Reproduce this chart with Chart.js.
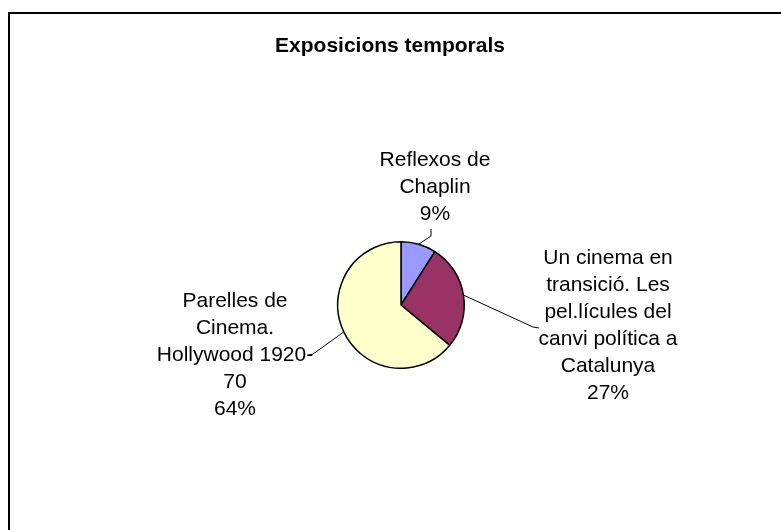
<!DOCTYPE html>
<html>
<head>
<meta charset="utf-8">
<script src="https://cdn.jsdelivr.net/npm/chart.js@4.4.1/dist/chart.umd.min.js"></script>
<style>
    html, body { margin: 0; padding: 0; background: #fff; }
    #wrap { width: 781px; height: 530px; position: relative; }
</style>
</head>
<body>
<div id="wrap"><canvas id="pieChart" width="781" height="530"></canvas></div>
<script>
// data
const chartTitle = 'Exposicions temporals';
const categories = [
    ['Reflexos de', 'Chaplin'],
    ['Un cinema en', 'transició. Les', 'pel.lícules del', 'canvi política a', 'Catalunya'],
    ['Parelles de', 'Cinema.', 'Hollywood 1920-', '70']
];
const shares = [9, 27, 64];
const sliceColors = ['#9999FF', '#993366', '#FFFFCC'];

// where each label block sits (centre x, first line y) and the elbow of its leader
const labelSpots = [
    { x: 435, y: 160, elbow: [[431, 236], [431, 229]] },
    { x: 608, y: 258, elbow: [[533, 327], [539, 328]] },
    { x: 235, y: 301, elbow: [[313, 354], [309, 355]] }
];

const font = '21px "Liberation Sans", Arial, sans-serif';
const lineH = 27;

const excelLook = {
    id: 'excelLook',
    beforeDraw(chart) {
        const ctx = chart.ctx;
        ctx.save();
        ctx.fillStyle = '#fff';
        ctx.fillRect(0, 0, chart.width, chart.height);
        ctx.strokeStyle = '#000';
        ctx.lineWidth = 2;
        ctx.strokeRect(9, 13, 800, 560);
        ctx.fillStyle = '#000';
        ctx.font = 'bold 21px "Liberation Sans", Arial, sans-serif';
        ctx.textAlign = 'center';
        ctx.textBaseline = 'middle';
        ctx.fillText(chartTitle, 390, 46);
        ctx.restore();
    },
    afterDatasetsDraw(chart) {
        const ctx = chart.ctx;
        const meta = chart.getDatasetMeta(0);
        const total = shares.reduce((a, b) => a + b, 0);
        ctx.save();
        meta.data.forEach((arc, i) => {
            const p = arc.getProps(['x', 'y', 'startAngle', 'endAngle', 'outerRadius'], true);
            const mid = (p.startAngle + p.endAngle) / 2;
            const ex = p.x + Math.cos(mid) * p.outerRadius;
            const ey = p.y + Math.sin(mid) * p.outerRadius;
            const spot = labelSpots[i];

            // leader line
            ctx.strokeStyle = '#000';
            ctx.lineWidth = 1;
            ctx.beginPath();
            ctx.moveTo(ex, ey);
            spot.elbow.forEach(pt => ctx.lineTo(pt[0], pt[1]));
            ctx.stroke();

            // label text
            const lines = categories[i].concat([Math.round(shares[i] / total * 100) + '%']);
            ctx.fillStyle = '#000';
            ctx.font = font;
            ctx.textAlign = 'center';
            ctx.textBaseline = 'middle';
            lines.forEach((t, k) => ctx.fillText(t, spot.x, spot.y + k * lineH));
        });
        ctx.restore();
    }
};

new Chart(document.getElementById('pieChart').getContext('2d'), {
    type: 'pie',
    data: {
        labels: categories.map(c => c.join(' ')),
        datasets: [{
            data: shares,
            backgroundColor: sliceColors,
            borderColor: '#000',
            borderWidth: 1.5
        }]
    },
    options: {
        responsive: false,
        animation: false,
        layout: {
            padding: { left: 337, right: 316, top: 241, bottom: 161 }
        },
        plugins: {
            legend: { display: false },
            title: { display: false },
            tooltip: { enabled: false }
        }
    },
    plugins: [excelLook]
});
</script>
</body>
</html>
